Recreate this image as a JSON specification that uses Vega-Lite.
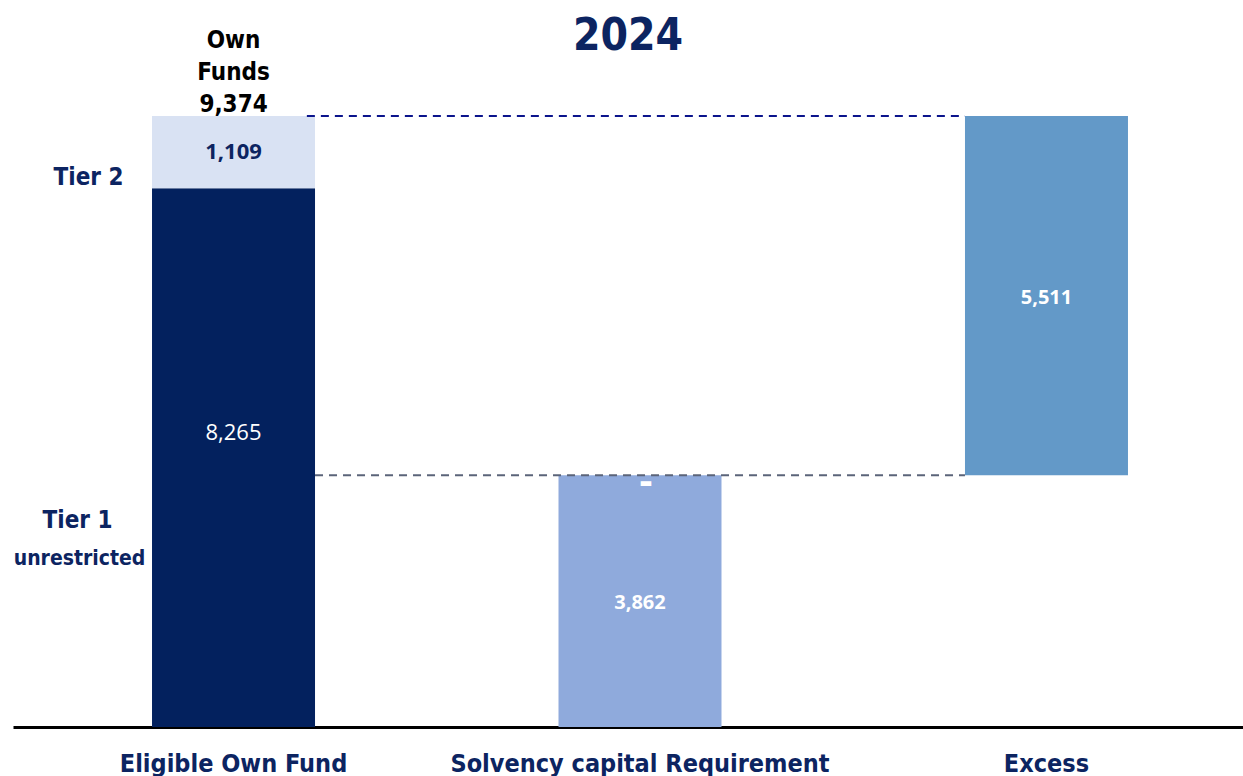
{
  "$schema": "https://vega.github.io/schema/vega-lite/v6.json",
  "width": 1230,
  "height": 727,
  "autosize": "none",
  "padding": {"left": 13, "top": 0, "right": 0, "bottom": 49},
  "background": "white",
  "config": {"view": {"stroke": null}},
  "data": {
    "values": [
      {"cat": "Eligible Own Fund", "seg": "Tier 1", "start": 0, "end": 8265, "value": 8265},
      {"cat": "Eligible Own Fund", "seg": "Tier 2", "start": 8265, "end": 9374, "value": 1109},
      {"cat": "Solvency capital Requirement", "seg": "SCR", "start": 0, "end": 3862, "value": 3862},
      {"cat": "Excess", "seg": "Excess", "start": 3862, "end": 9374, "value": 5511}
    ]
  },
  "encoding": {
    "x": {
      "field": "cat",
      "type": "nominal",
      "scale": {"domain": ["Eligible Own Fund", "Solvency capital Requirement", "Excess"], "range": [0, 1254], "paddingInner": 0.599, "paddingOuter": 0.342},
      "axis": {
        "title": null,
        "orient": "bottom",
        "ticks": false,
        "domainColor": "#000000",
        "domainWidth": 3,
        "labelAngle": 0,
        "labelLimit": 0,
        "labelFont": "DejaVu Sans Condensed",
        "labelFontSize": 25,
        "labelFontWeight": "bold",
        "labelColor": "#0c2461",
        "labelPadding": 24
      }
    }
  },
  "layer": [
    {
      "mark": {"type": "bar"},
      "encoding": {
        "y": {"field": "start", "type": "quantitative", "scale": {"domain": [0, 11154], "nice": false}, "axis": null},
        "y2": {"field": "end"},
        "color": {
          "field": "seg",
          "type": "nominal",
          "scale": {"domain": ["Tier 1", "Tier 2", "SCR", "Excess"], "range": ["#03215e", "#d9e2f3", "#8faadc", "#6399c8"]},
          "legend": null
        }
      }
    },
    {
      "data": {"values": [{"a": "Eligible Own Fund", "b": "Excess", "v": 9374}]},
      "mark": {"type": "rule", "stroke": "#0b148c", "strokeWidth": 2, "strokeDash": [8, 6]},
      "encoding": {
        "x": {"field": "a", "type": "nominal", "bandPosition": 0.95},
        "x2": {"field": "b", "bandPosition": 0},
        "y": {"field": "v", "type": "quantitative"}
      }
    },
    {
      "data": {"values": [{"a": "Eligible Own Fund", "b": "Excess", "v": 3862}]},
      "mark": {"type": "rule", "stroke": "#5b6479", "strokeWidth": 2, "strokeDash": [8, 6]},
      "encoding": {
        "x": {"field": "a", "type": "nominal", "bandPosition": 1},
        "x2": {"field": "b", "bandPosition": 0},
        "y": {"field": "v", "type": "quantitative"}
      }
    },
    {
      "transform": [
        {"calculate": "(datum.start + datum.end) / 2", "as": "mid"},
        {"filter": "datum.seg == 'Tier 1'"}
      ],
      "mark": {"type": "text", "font": "Open Sans", "fontSize": 22, "color": "white", "dy": -25},
      "encoding": {
        "y": {"field": "mid", "type": "quantitative"},
        "text": {"field": "value", "type": "quantitative", "format": ","}
      }
    },
    {
      "transform": [
        {"calculate": "(datum.start + datum.end) / 2", "as": "mid"},
        {"filter": "datum.seg == 'Tier 2'"}
      ],
      "mark": {"type": "text", "font": "Open Sans", "fontSize": 22, "fontWeight": "bold", "color": "#0c2461"},
      "encoding": {
        "y": {"field": "mid", "type": "quantitative"},
        "text": {"field": "value", "type": "quantitative", "format": ","}
      }
    },
    {
      "transform": [
        {"calculate": "(datum.start + datum.end) / 2", "as": "mid"},
        {"filter": "datum.seg == 'SCR' || datum.seg == 'Excess'"}
      ],
      "mark": {"type": "text", "font": "Open Sans", "fontSize": 20, "fontWeight": "bold", "color": "white", "dy": 2},
      "encoding": {
        "y": {"field": "mid", "type": "quantitative"},
        "text": {"field": "value", "type": "quantitative", "format": ","}
      }
    },
    {
      "data": {"values": [{"cat": "Solvency capital Requirement", "v": 3862, "t": "-"}]},
      "mark": {"type": "text", "font": "Open Sans", "fontSize": 40, "fontWeight": "bold", "color": "white", "dx": 6, "dy": 7},
      "encoding": {
        "x": {"field": "cat", "type": "nominal"},
        "y": {"field": "v", "type": "quantitative"},
        "text": {"field": "t"}
      }
    },
    {
      "data": {"values": [{"cat": "Eligible Own Fund", "v": 9374, "t": ["Own", "Funds", "9,374"]}]},
      "mark": {"type": "text", "font": "DejaVu Sans Condensed", "fontSize": 24, "fontWeight": "bold", "color": "#000000", "baseline": "alphabetic", "lineHeight": 32, "dy": -68},
      "encoding": {
        "x": {"field": "cat", "type": "nominal"},
        "y": {"field": "v", "type": "quantitative"},
        "text": {"field": "t"}
      }
    },
    {
      "data": {"values": [{"cat": "Solvency capital Requirement", "v": 10387, "t": "2024"}]},
      "mark": {"type": "text", "font": "DejaVu Sans Condensed", "fontSize": 44, "fontWeight": "bold", "color": "#0c2461", "baseline": "alphabetic", "dx": -12},
      "encoding": {
        "x": {"field": "cat", "type": "nominal"},
        "y": {"field": "v", "type": "quantitative"},
        "text": {"field": "t"}
      }
    },
    {
      "data": {"values": [{"cat": "Eligible Own Fund", "v": 8316, "t": "Tier 2"}]},
      "mark": {"type": "text", "font": "DejaVu Sans Condensed", "fontSize": 24, "fontWeight": "bold", "color": "#0c2461", "baseline": "alphabetic", "dx": -145},
      "encoding": {
        "x": {"field": "cat", "type": "nominal"},
        "y": {"field": "v", "type": "quantitative"},
        "text": {"field": "t"}
      }
    },
    {
      "data": {"values": [{"cat": "Eligible Own Fund", "v": 3053, "t": "Tier 1"}]},
      "mark": {"type": "text", "font": "DejaVu Sans Condensed", "fontSize": 24, "fontWeight": "bold", "color": "#0c2461", "baseline": "alphabetic", "dx": -156},
      "encoding": {
        "x": {"field": "cat", "type": "nominal"},
        "y": {"field": "v", "type": "quantitative"},
        "text": {"field": "t"}
      }
    },
    {
      "data": {"values": [{"cat": "Eligible Own Fund", "v": 2485, "t": "unrestricted"}]},
      "mark": {"type": "text", "font": "DejaVu Sans Condensed", "fontSize": 21, "fontWeight": "bold", "color": "#0c2461", "baseline": "alphabetic", "dx": -154},
      "encoding": {
        "x": {"field": "cat", "type": "nominal"},
        "y": {"field": "v", "type": "quantitative"},
        "text": {"field": "t"}
      }
    }
  ]
}
